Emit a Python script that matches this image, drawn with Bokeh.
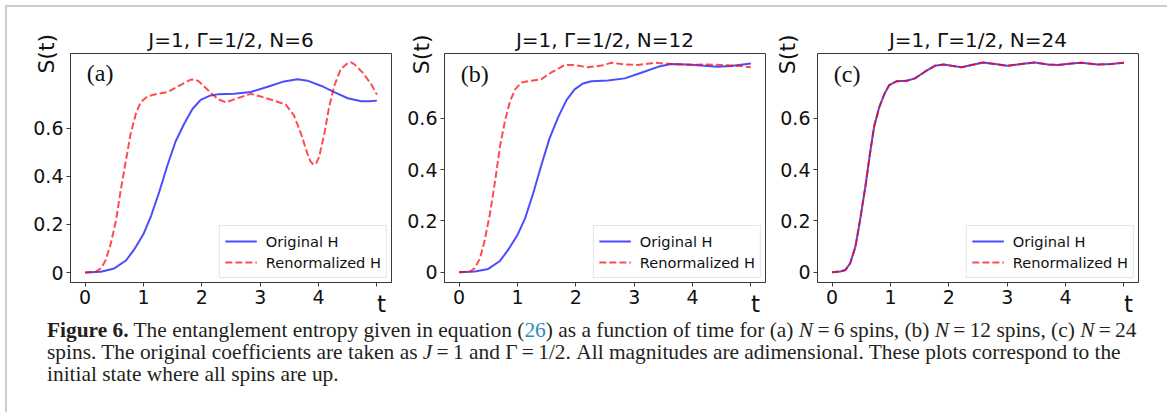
import math
from bokeh.plotting import figure
from bokeh.models import Range1d, FixedTicker, CustomJSTickFormatter, Label, Div
from bokeh.layouts import column, row
from bokeh.embed import file_html
from bokeh.resources import INLINE

# ---------------- data ----------------
a_t_orig = [0, 0.27, 0.5, 0.7, 0.84, 1.0, 1.13, 1.27, 1.41, 1.55, 1.7, 1.84, 1.98, 2.13, 2.27,
            2.55, 2.84, 3.13, 3.41, 3.64, 3.81, 4.04, 4.27, 4.5, 4.73, 4.87, 5.0]
a_s_orig = [0, 0.003, 0.017, 0.05, 0.095, 0.16, 0.235, 0.335, 0.445, 0.545, 0.62, 0.68, 0.718, 0.735, 0.741,
            0.744, 0.751, 0.773, 0.795, 0.804, 0.798, 0.777, 0.75, 0.725, 0.712, 0.712, 0.715]
a_t_ren = [0, 0.18, 0.27, 0.35, 0.44, 0.53, 0.61, 0.7, 0.78, 0.87, 0.95, 1.07, 1.24, 1.41, 1.58, 1.81,
           1.88, 1.95, 2.1, 2.27, 2.41, 2.61, 2.84, 3.01, 3.24, 3.44, 3.58, 3.7, 3.81, 3.86, 3.91, 3.96,
           4.01, 4.05, 4.1, 4.18, 4.27, 4.38, 4.5, 4.55, 4.61, 4.75, 4.9, 5.0]
a_s_ren = [0, 0.003, 0.017, 0.05, 0.12, 0.217, 0.342, 0.466, 0.577, 0.66, 0.708, 0.733, 0.743, 0.75,
           0.773, 0.802, 0.803, 0.795, 0.76, 0.722, 0.708, 0.725, 0.743, 0.732, 0.715, 0.698, 0.653,
           0.577, 0.494, 0.463, 0.449, 0.455, 0.48, 0.525, 0.577, 0.687, 0.777, 0.846, 0.871, 0.875,
           0.867, 0.833, 0.784, 0.74]

b_t_orig = [0, 0.27, 0.5, 0.7, 0.84, 1.0, 1.13, 1.27, 1.41, 1.55, 1.7, 1.84, 1.98, 2.12, 2.27,
            2.55, 2.84, 3.12, 3.41, 3.63, 3.92, 4.2, 4.43, 4.66, 5.0]
b_s_orig = [0, 0.003, 0.013, 0.044, 0.087, 0.145, 0.21, 0.308, 0.418, 0.522, 0.606, 0.671, 0.713,
            0.736, 0.745, 0.748, 0.756, 0.778, 0.801, 0.812, 0.81, 0.805, 0.801, 0.804, 0.814]
b_t_ren = [0, 0.19, 0.27, 0.36, 0.44, 0.53, 0.62, 0.7, 0.79, 0.87, 0.96, 1.07, 1.24, 1.41, 1.58,
           1.81, 1.98, 2.21, 2.44, 2.61, 2.84, 3.06, 3.35, 3.63, 3.92, 4.26, 4.54, 4.83, 5.0]
b_s_ren = [0, 0.003, 0.016, 0.055, 0.126, 0.23, 0.36, 0.49, 0.594, 0.665, 0.713, 0.74, 0.747, 0.753,
           0.779, 0.808, 0.808, 0.799, 0.806, 0.817, 0.81, 0.808, 0.817, 0.812, 0.809, 0.81, 0.808,
           0.804, 0.799]

c_t = [0, 0.14, 0.23, 0.31, 0.4, 0.48, 0.57, 0.65, 0.72, 0.81, 0.9, 0.98, 1.11, 1.28, 1.42, 1.59,
       1.76, 1.91, 2.05, 2.22, 2.39, 2.59, 2.79, 3.0, 3.24, 3.47, 3.7, 3.87, 4.1, 4.27, 4.55, 4.78, 5.0]
c_s_orig = [0, 0.003, 0.009, 0.035, 0.1, 0.204, 0.334, 0.464, 0.568, 0.645, 0.697, 0.73, 0.745, 0.747,
            0.756, 0.782, 0.805, 0.81, 0.805, 0.799, 0.808, 0.818, 0.812, 0.805, 0.812, 0.818, 0.81,
            0.808, 0.814, 0.817, 0.81, 0.812, 0.817]
c_s_ren = [0, 0.003, 0.009, 0.035, 0.1, 0.204, 0.334, 0.464, 0.568, 0.645, 0.697, 0.73, 0.745, 0.747,
           0.756, 0.782, 0.805, 0.81, 0.805, 0.799, 0.808, 0.818, 0.812, 0.805, 0.812, 0.818, 0.81,
           0.808, 0.814, 0.817, 0.81, 0.812, 0.817]

titles = ["J=1, \u0393=1/2, N=6", "J=1, \u0393=1/2, N=12", "J=1, \u0393=1/2, N=24"]
panel_tags = ["(a)", "(b)", "(c)"]
x_ticks = [0, 1, 2, 3, 4, 5]
y_ticks = [0, 0.2, 0.4, 0.6]
legend_labels = ["Original H", "Renormalized H"]

SANS = "DejaVu Sans"


def make_panel(title, tag, t1, s1, t2, s2, yr, right, shift, tag_y, t_y, s_x, s_y):
    p = figure(frame_width=321, frame_height=229, output_backend="svg", toolbar_location=None,
               x_range=Range1d(-0.25, 5.25), y_range=Range1d(*yr),
               min_border_left=70, min_border_right=right, min_border_top=46, min_border_bottom=60,
               background_fill_color="white", border_fill_color=None,
               styles={"margin-left": "%dpx" % shift})
    p.grid.visible = False
    p.outline_line_color = "#3a3a3a"
    p.outline_line_width = 1
    for ax in (p.xaxis[0], p.yaxis[0]):
        ax.axis_line_color = "#3a3a3a"
        ax.major_tick_line_color = "#3a3a3a"
        ax.major_tick_out = 4
        ax.major_tick_in = 0
        ax.minor_tick_line_color = None
        ax.major_label_text_font = SANS
        ax.major_label_text_font_size = "19px"
        ax.major_label_text_color = "#111111"
        ax.major_label_standoff = 3
    p.xaxis.ticker = FixedTicker(ticks=x_ticks)
    p.xaxis.formatter = CustomJSTickFormatter(code="return tick >= 5 ? '' : tick.toFixed(0);")
    p.yaxis.ticker = FixedTicker(ticks=y_ticks)
    p.yaxis.formatter = CustomJSTickFormatter(code="return tick == 0 ? '0' : tick.toFixed(1);")

    p.title.text = title
    p.title.align = "center"
    p.title.text_font = SANS
    p.title.text_font_style = "normal"
    p.title.text_font_size = "20px"
    p.title.text_color = "#111111"
    p.title.standoff = 4

    p.line(t1, s1, line_color="blue", line_alpha=0.7, line_width=2, legend_label=legend_labels[0])
    p.line(t2, s2, line_color="red", line_alpha=0.7, line_width=2, line_dash="7 3",
           legend_label=legend_labels[1])

    lg = p.legend[0]
    lg.location = "bottom_right"
    lg.margin = 4
    lg.padding = 5
    lg.spacing = 1
    lg.label_height = 20
    lg.glyph_height = 20
    lg.glyph_width = 32
    lg.label_standoff = 9
    lg.label_text_font = SANS
    lg.label_text_font_size = "14.6px"
    lg.label_text_color = "#111111"
    lg.border_line_color = "#cccccc"
    lg.border_line_width = 1
    lg.background_fill_alpha = 0.85

    p.add_layout(Label(x=0.03, y=tag_y, text=tag, text_font="Liberation Serif", text_font_size="24px",
                       text_baseline="top", text_align="left", text_color="#111111"))
    # labels living outside the frame are attached to side panels so they are not clipped
    p.add_layout(Label(x=5.08, y=t_y, text="t", text_font=SANS, text_font_size="23px",
                       text_baseline="alphabetic", text_align="center", text_color="#111111"), "below")
    p.add_layout(Label(x=s_x, y=s_y, text="S(t)", text_font=SANS, text_font_size="22px", angle=math.pi / 2,
                       text_baseline="middle", text_align="center", text_color="#111111"), "left")
    return p


pa = make_panel(titles[0], panel_tags[0], a_t_orig, a_s_orig, a_t_ren, a_s_ren,
                (-0.0415, 0.911), 8, -7, 0.884, -0.129, -0.666, 0.91)
pb = make_panel(titles[1], panel_tags[1], b_t_orig, b_s_orig, b_t_ren, b_s_ren,
                (-0.04, 0.853), 8, -25, 0.822, -0.122, -0.644, 0.85)
pc = make_panel(titles[2], panel_tags[2], c_t, c_s_orig, c_t, c_s_ren,
                (-0.04, 0.853), 23, -26, 0.822, -0.122, -0.764, 0.85)

caption_html = (
    '<b>Figure 6.</b> The entanglement entropy given in equation (<span style="color:#2b8bc6">26</span>) '
    'as a function of time for (a) <i>N</i>&#8201;=&#8201;6 spins, (b) <i>N</i>&#8201;=&#8201;12 spins, '
    '(c) <i>N</i>&#8201;=&#8201;24<br>'
    'spins. The original coefficients are taken as <i>J</i>&#8201;=&#8201;1 and '
    '\u0393&#8201;=&#8201;1/2. All magnitudes are adimensional. These plots correspond to the<br>'
    'initial state where all spins are up.'
)
cap = Div(text=caption_html, width=1150, height=88,
          styles={"font-family": "Liberation Serif", "font-size": "21.4px", "line-height": "22px",
                  "color": "#231f20", "white-space": "nowrap", "padding-left": "35px",
                  "margin-top": "-23px"})

layout = column(row(pa, pb, pc), cap,
                styles={"border-top": "2px solid #cdcdcd", "border-left": "2px solid #cdcdcd",
                        "border-right": "2px solid #cdcdcd", "margin-left": "5px", "margin-top": "5px"})

open("out.html", "w").write(file_html(layout, INLINE))
